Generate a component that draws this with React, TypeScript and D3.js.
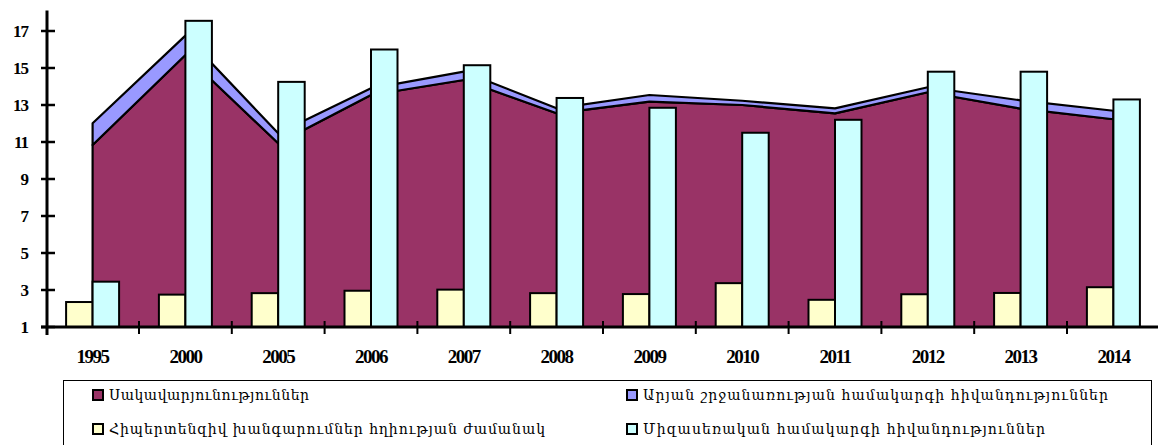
import React, { useEffect, useRef } from 'react';
import * as d3 from 'd3';

// categories
const years = ['1995', '2000', '2005', '2006', '2007', '2008', '2009', '2010', '2011', '2012', '2013', '2014'];

// stacked area series
const anemia = [10.84, 15.7, 10.93, 13.54, 14.35, 12.55, 13.18, 13.0, 12.55, 13.69, 12.8, 12.23];
const circulatory = [1.17, 1.05, 0.54, 0.36, 0.45, 0.27, 0.36, 0.23, 0.27, 0.27, 0.45, 0.46];

// column series
const hypertensive = [2.35, 2.75, 2.83, 2.96, 3.02, 2.83, 2.78, 3.37, 2.47, 2.77, 2.84, 3.15];
const urogenital = [3.45, 17.55, 14.25, 16.0, 15.15, 13.38, 12.85, 11.5, 12.2, 14.8, 14.8, 13.3];

const yTicks = [1, 3, 5, 7, 9, 11, 13, 15, 17];

const legendItems = [
  { label: 'Սակավարյունություններ', color: '#993366', width: 200 },
  { label: 'Արյան շրջանառության համակարգի հիվանդություններ', color: '#9999FF', width: 465 },
  { label: 'Հիպերտենզիվ խանգարումներ հղիության ժամանակ', color: '#FFFFCC', width: 436 },
  { label: 'Միզասեռական համակարգի հիվանդություններ', color: '#CCFFFF', width: 402 },
];

const W = 1158;
const H = 445;

const App: React.FC = () => {
  const svgRef = useRef<SVGSVGElement>(null);

  useEffect(() => {
    if (!svgRef.current) return;
    const svg = d3.select(svgRef.current);
    svg.selectAll('*').remove();

    const x = d3.scaleBand<string>().domain(years).range([46.2, 46.2 + 12 * 92.8]).padding(0);
    const y = d3.scaleLinear().domain([1, 18]).range([327, 327 - 17 * 18.5]);
    const cx = (yr: string) => (x(yr) || 0) + x.bandwidth() / 2;

    const rows = years.map((yr, i) => ({ year: yr, anemia: anemia[i], circulatory: circulatory[i] }));
    const stack = d3.stack<any>().keys(['anemia', 'circulatory']);
    const layers = stack(rows);
    const areaColors = ['#993366', '#9999FF'];

    const area = d3.area<any>()
      .x(d => cx(d.data.year))
      .y0(d => y(Math.max(d[0], 1)))
      .y1(d => y(d[1]));

    const g = svg.append('g');

    layers.forEach((layer, i) => {
      g.append('path')
        .attr('d', area(layer as any) || '')
        .attr('fill', areaColors[i])
        .attr('stroke', '#000')
        .attr('stroke-width', 2.2)
        .attr('stroke-linejoin', 'round');
    });

    // columns
    const sub = d3.scaleBand<string>().domain(['a', 'b']).range([0, 53]).padding(0);
    const barSeries = [
      { key: 'a', values: hypertensive, color: '#FFFFCC' },
      { key: 'b', values: urogenital, color: '#CCFFFF' },
    ];
    barSeries.forEach(s => {
      g.selectAll(null)
        .data(years)
        .enter()
        .append('rect')
        .attr('x', (yr) => cx(yr) - 26.5 + (sub(s.key) || 0))
        .attr('y', (yr, i) => y(s.values[i]))
        .attr('width', sub.bandwidth())
        .attr('height', (yr, i) => y(1) - y(s.values[i]))
        .attr('fill', s.color)
        .attr('stroke', '#000')
        .attr('stroke-width', 2);
    });

    // y axis
    const yAxis = svg.append('g');
    yAxis.append('line')
      .attr('x1', 47).attr('x2', 47)
      .attr('y1', y(18) - 2).attr('y2', 335)
      .attr('stroke', '#000').attr('stroke-width', 3);
    yTicks.forEach(t => {
      yAxis.append('line')
        .attr('x1', 41).attr('x2', 55)
        .attr('y1', y(t)).attr('y2', y(t))
        .attr('stroke', '#000').attr('stroke-width', 2.5);
      yAxis.append('text')
        .attr('x', 28)
        .attr('y', y(t))
        .attr('dy', '0.35em')
        .attr('text-anchor', 'end')
        .attr('font-family', 'Liberation Serif, serif')
        .attr('font-weight', 'bold')
        .attr('font-size', 17)
        .attr('letter-spacing', -1)
        .text(String(t));
    });

    // x axis
    const xAxis = svg.append('g');
    xAxis.append('line')
      .attr('x1', 41).attr('x2', W)
      .attr('y1', y(1)).attr('y2', y(1))
      .attr('stroke', '#000').attr('stroke-width', 3);
    years.forEach((yr, i) => {
      if (i > 0) {
        const bx = x(yr) || 0;
        xAxis.append('line')
          .attr('x1', bx).attr('x2', bx)
          .attr('y1', y(1) - 6).attr('y2', y(1) + 7)
          .attr('stroke', '#000').attr('stroke-width', 2);
      }
      xAxis.append('text')
        .attr('x', cx(yr))
        .attr('y', 363)
        .attr('text-anchor', 'middle')
        .attr('font-family', 'Liberation Serif, serif')
        .attr('font-weight', 'bold')
        .attr('font-size', 19)
        .attr('letter-spacing', -1.5)
        .text(yr);
    });

    // legend
    const lg = svg.append('g');
    lg.append('rect')
      .attr('x', 63.5).attr('y', 380.5)
      .attr('width', 1088).attr('height', 80)
      .attr('fill', '#fff').attr('stroke', '#000').attr('stroke-width', 1);
    const colX = [93, 627];
    const rowY = [395, 429];
    legendItems.forEach((item, i) => {
      const cxl = colX[i % 2];
      const cyl = rowY[Math.floor(i / 2)];
      lg.append('rect')
        .attr('x', cxl).attr('y', cyl - 5)
        .attr('width', 10).attr('height', 10)
        .attr('fill', item.color)
        .attr('stroke', '#000').attr('stroke-width', 2);
      lg.append('text')
        .attr('x', cxl + 16)
        .attr('y', cyl)
        .attr('dy', '0.35em')
        .attr('font-family', 'DejaVu Serif, serif')
        .attr('font-size', 14)
        .attr('textLength', item.width)
        .attr('lengthAdjust', 'spacing')
        .text(item.label);
    });
  }, []);

  return (
    <svg
      ref={svgRef}
      width={W}
      height={H}
      style={{ position: 'absolute', left: 0, top: 0, background: '#fff' }}
    />
  );
};

export default App;
